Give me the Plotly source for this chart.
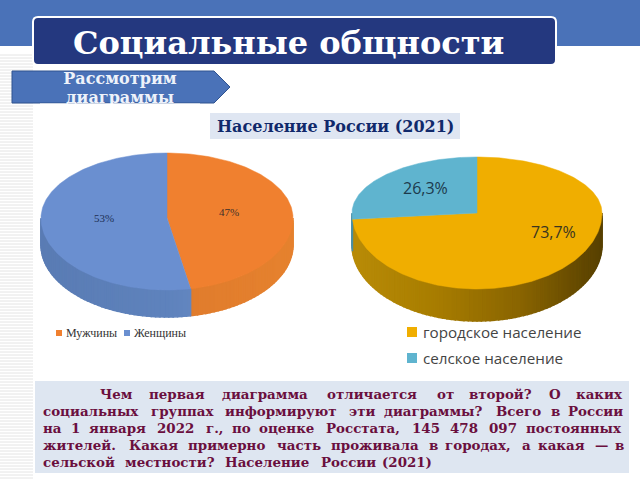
#! /usr/bin/env python3
import math
import plotly.graph_objects as go

# Данные диаграмм
GENDER_LABELS = ["Мужчины", "Женщины"]
GENDER_VALUES = [47, 53]
GENDER_TEXT = ["47%", "53%"]

SETTLEMENT_LABELS = ["городское население", "селское население"]
SETTLEMENT_VALUES = [73.7, 26.3]
SETTLEMENT_TEXT = ["73,7%", "26,3%"]

TITLE = "Социальные общности"
SUBTITLE = "Население России (2021)"
ARROW_LINES = ["Рассмотрим", "диаграммы"]

# Текст внизу: (y строки, [(x слова, слово), ...]) - выравнивание по ширине
BODY_LINES = [
    (394, [(98, "Чем"), (147, "первая"), (220, "диаграмма"), (325, "отличается"), (435, "от"),
           (467, "второй?"), (547, "О"), (574, "каких")]),
    (411, [(41, "социальных"), (149, "группах"), (223, "информируют"), (347, "эти"),
           (382, "диаграммы?"), (494, "Всего"), (549, "в"), (566, "России")]),
    (428, [(41, "на"), (69, "1"), (87, "января"), (155, "2022"), (204, "г.,"), (230, "по"),
           (257, "оценке"), (324, "Росстата,"), (410, "145"), (448, "478"), (487, "097"),
           (524, "постоянных")]),
    (445, [(41, "жителей."), (127, "Какая"), (186, "примерно"), (275, "часть"), (329, "проживала"),
           (427, "в"), (443, "городах,"), (520, "а"), (536, "какая"), (593, "—"), (613, "в")]),
    (462, [(41, "сельской"), (123, "местности?"), (223, "Население"), (319, "России"), (380, "(2021)")]),
]

SERIF = "DejaVu Serif"
BLUE = "#4a72b8"
NAVY = "#24387f"


def to_rgb(c):
    return [int(c[i:i + 2], 16) for i in (1, 3, 5)]


def mix(stops, t):
    # цвет по градиенту стенки
    t = min(max(t, 0), 1) * (len(stops) - 1)
    i = min(int(t), len(stops) - 2)
    a, b = to_rgb(stops[i]), to_rgb(stops[i + 1])
    f = t - i
    return "rgb(%d,%d,%d)" % tuple(a[k] + (b[k] - a[k]) * f for k in range(3))


def edge(pie, deg):
    # точка на эллипсе, угол по часовой от верха; низ ближе к зрителю
    r = math.radians(deg)
    ry = pie["ry_top"] if math.cos(r) > 0 else pie["ry_bot"]
    return pie["cx"] + pie["rx"] * math.sin(r), pie["cy"] - ry * math.cos(r)


def add_pie(fig, pie, values, colors, walls):
    total = sum(values)
    start = 0
    for value, color, wall in zip(values, colors, walls):
        end = start + 360 * value / total
        # боковая стенка, только передняя половина
        a = max(start, 90)
        stop = min(end, 270)
        while a < stop:
            b = min(a + 2, stop)
            x0, y0 = edge(pie, a)
            x1, y1 = edge(pie, b)
            t = ((x0 + x1) / 2 - pie["cx"] + pie["rx"]) / (2 * pie["rx"])
            c = mix(wall, t)
            fig.add_trace(go.Scatter(
                x=[x0, x1, x1, x0, x0], y=[y0, y1, y1 + pie["depth"], y0 + pie["depth"], y0],
                mode="lines", fill="toself", fillcolor=c, line=dict(color=c, width=1.5),
                hoverinfo="skip", showlegend=False))
            a = b
        start = end
    start = 0
    for value, color in zip(values, colors):
        end = start + 360 * value / total
        n = max(int(end - start), 2)
        pts = [edge(pie, start + (end - start) * i / n) for i in range(n + 1)]
        xs = [pie["cx"]] + [p[0] for p in pts] + [pie["cx"]]
        ys = [pie["cy"]] + [p[1] for p in pts] + [pie["cy"]]
        fig.add_trace(go.Scatter(
            x=xs, y=ys, mode="lines", fill="toself", fillcolor=color,
            line=dict(color=color, width=0.5), hoverinfo="skip", showlegend=False))
        start = end


def add_text(fig, x, y, text, size, color, family, anchor="left"):
    fig.add_annotation(x=x, y=y, text=text, showarrow=False, xanchor=anchor, yanchor="middle",
                       font=dict(size=size, color=color, family=family))


def rect(x0, y0, x1, y1, fill, layer="below"):
    return dict(type="rect", x0=x0, y0=y0, x1=x1, y1=y1, fillcolor=fill, line_width=0, layer=layer)


fig = go.Figure()

shapes = []
# полоски слева
for y in range(55, 480, 3):
    shapes.append(dict(type="line", x0=0, x1=33, y0=y, y1=y, line=dict(color="#e4e4e4", width=1), layer="below"))
# шапка
shapes.append(rect(0, 0, 640, 46, BLUE))
shapes.append(dict(type="path", layer="below", fillcolor=NAVY, line=dict(color="white", width=2),
                   path="M 38 17 L 551 17 Q 556 17 556 22 L 556 60 Q 556 65 551 65 L 38 65 "
                        "Q 33 65 33 60 L 33 22 Q 33 17 38 17 Z"))
# плашки
shapes.append(rect(210, 113, 460, 139, "#dfe6f2"))
shapes.append(rect(35, 381, 629, 473, "#dee6f1"))
# стрелка
shapes.append(dict(type="path", layer="below", fillcolor=BLUE, line=dict(color="#2f528f", width=1),
                   path="M 12 71 L 214 71 L 230 87 L 214 103 L 12 103 Z"))
# обрезка нижней строки стрелки, как в оригинале
shapes.append(rect(40, 103.5, 200, 110, "white", layer="above"))

# диаграммы
add_pie(fig, dict(cx=167, cy=218, rx=126, ry_top=65, ry_bot=72, depth=27),
        GENDER_VALUES, ["#f0802f", "#6a8fd0"],
        [["#d9752a", "#e6822f"], ["#5a7cb4", "#5f83bd", "#7192cc"]])
add_pie(fig, dict(cx=477, cy=213, rx=125, ry_top=56, ry_bot=76, depth=32),
        SETTLEMENT_VALUES, ["#f0ae00", "#5fb4cf"],
        [["#b98c08", "#a87d00", "#8a6500", "#574000"], ["#4a8ea5", "#4a8ea5"]])

# подписи на секторах
add_text(fig, 229, 212, GENDER_TEXT[0], 11, "#40302a", "Liberation Serif", "center")
add_text(fig, 104, 218, GENDER_TEXT[1], 11, "#1f2f55", "Liberation Serif", "center")
add_text(fig, 553, 232, SETTLEMENT_TEXT[0], 16, "#3a3520", "Open Sans", "center")
add_text(fig, 425, 188, SETTLEMENT_TEXT[1], 16, "#1c3a4c", "Open Sans", "center")

# легенды
fig.add_trace(go.Scatter(x=[59, 127], y=[333, 333], mode="markers", hoverinfo="skip", showlegend=False,
                         marker=dict(symbol="square", size=6, color=["#f0802f", "#6a8fd0"])))
add_text(fig, 64, 333, GENDER_LABELS[0], 12, "#333333", "Liberation Serif")
add_text(fig, 132, 333, GENDER_LABELS[1], 12, "#333333", "Liberation Serif")
fig.add_trace(go.Scatter(x=[412, 412], y=[332, 358], mode="markers", hoverinfo="skip", showlegend=False,
                         marker=dict(symbol="square", size=10, color=["#f0ae00", "#5fb4cf"])))
add_text(fig, 421, 332, SETTLEMENT_LABELS[0], 15.2, "#444444", "Open Sans")
add_text(fig, 421, 358, SETTLEMENT_LABELS[1], 15.2, "#444444", "Open Sans")

# текст стрелки - как trace, чтобы белая полоса его срезала
fig.add_trace(go.Scatter(x=[120, 120], y=[80, 99], mode="text", text=ARROW_LINES, hoverinfo="skip",
                         showlegend=False, textposition="middle center",
                         textfont=dict(size=16, color="#eef2fa", family=SERIF, weight="bold")))

add_text(fig, 288, 43, "<b>%s</b>" % TITLE, 32, "white", SERIF, "center")
add_text(fig, 335, 126, "<b>%s</b>" % SUBTITLE, 16, "#10296b", SERIF, "center")

for y, words in BODY_LINES:
    for x, word in words:
        add_text(fig, x, y, "<b>%s</b>" % word, 13.4, "#6a0f3e", SERIF)

fig.update_layout(
    width=640, height=480, margin=dict(l=0, r=0, t=0, b=0),
    paper_bgcolor="white", plot_bgcolor="rgba(0,0,0,0)",
    shapes=shapes, showlegend=False,
    xaxis=dict(range=[0, 640], visible=False, fixedrange=True),
    yaxis=dict(range=[480, 0], visible=False, fixedrange=True),
)

# убираем отступ body, иначе всё съезжает на 8px
fig.write_html("out.html", config=dict(displayModeBar=False),
               post_script="document.body.style.margin='0';")
